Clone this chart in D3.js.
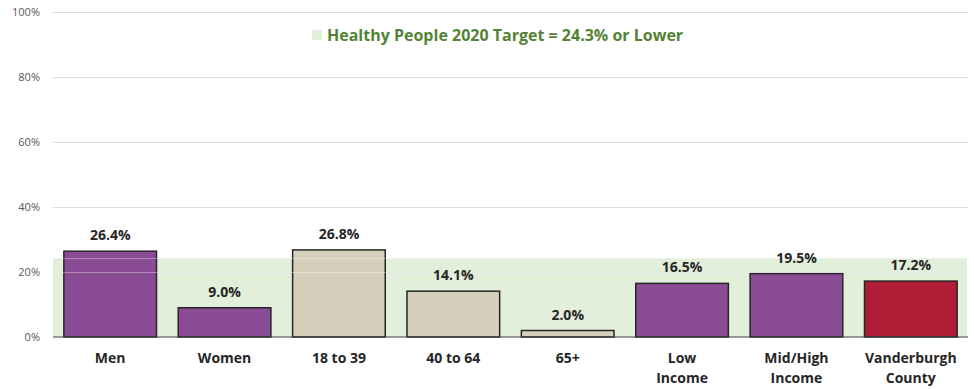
<!DOCTYPE html>
<html>
<head>
<meta charset="utf-8">
<script src="https://cdn.jsdelivr.net/npm/d3@7"></script>
<style>
  html, body { margin: 0; padding: 0; background: #fff; }
  svg { display: block; font-family: "Open Sans", "Segoe UI", sans-serif; }
</style>
</head>
<body>
<svg id="chart" width="974" height="389"></svg>
<script>
// Categories (two-line labels split on "\n")
const categories = ["Men", "Women", "18 to 39", "40 to 64", "65+", "Low\nIncome", "Mid/High\nIncome", "Vanderburgh\nCounty"];
// Percent of adults
const values = [26.4, 9.0, 26.8, 14.1, 2.0, 16.5, 19.5, 17.2];
// Bar group: sex, age, income, county total
const groups = ["sex", "sex", "age", "age", "age", "income", "income", "total"];
const yTicks = [0, 20, 40, 60, 80, 100];
const targetValue = 24.3;
const legendLabel = "Healthy People 2020 Target = 24.3% or Lower";

const groupColor = { sex: "#8b4c96", age: "#d6cfbb", income: "#8b4c96", total: "#b01c35" };

const svg = d3.select("#chart");
const margin = { left: 53, right: 6, top: 12, bottom: 52 };
const W = 974, H = 389;

const x = d3.scaleBand()
  .domain(categories)
  .range([margin.left, W - margin.right])
  .paddingInner(0.19)
  .paddingOuter(0.095);

const y = d3.scaleLinear().domain([0, 100]).range([H - margin.bottom, margin.top]);

// Target band (0 to target)
svg.append("rect")
  .attr("x", margin.left)
  .attr("width", W - margin.right - margin.left - 1)
  .attr("y", y(targetValue))
  .attr("height", y(0) - y(targetValue))
  .attr("fill", "#e2efda");

// Gridlines
const yAxis = d3.axisLeft(y)
  .tickValues(yTicks)
  .tickSize(-(W - margin.right - margin.left))
  .tickFormat(d => d + "%");

const gy = svg.append("g")
  .attr("transform", `translate(${margin.left},0)`)
  .call(yAxis);
gy.select(".domain").remove();
gy.selectAll(".tick line").attr("stroke", "#dedede").attr("stroke-width", 1);
gy.selectAll(".tick text")
  .attr("x", -13)
  .attr("fill", "#595959")
  .style("font-size", "11px")
  .style("font-family", "'Open Sans', sans-serif");
gy.selectAll(".tick").filter(d => d === 0).select("line").remove();

// Bars
svg.append("g").selectAll("rect")
  .data(categories)
  .join("rect")
  .attr("x", d => x(d))
  .attr("width", x.bandwidth())
  .attr("y", (d, i) => y(values[i]))
  .attr("height", (d, i) => y(0) - y(values[i]))
  .attr("fill", (d, i) => groupColor[groups[i]])
  .attr("stroke", "#262626")
  .attr("stroke-width", 1.5);

// Faint band-edge and gridline showing through the bars
const overlay = svg.append("g").attr("stroke", "#ffffff").attr("stroke-opacity", 0.35).attr("stroke-width", 1);
[targetValue, 20].forEach(v => {
  overlay.append("line")
    .attr("x1", margin.left).attr("x2", W - margin.right)
    .attr("y1", Math.round(y(v)) + 0.5).attr("y2", Math.round(y(v)) + 0.5);
});

// Baseline
svg.append("line")
  .attr("x1", margin.left).attr("x2", W - margin.right)
  .attr("y1", y(0)).attr("y2", y(0))
  .attr("stroke", "#404040").attr("stroke-width", 1.2);

// Value labels
svg.append("g").selectAll("text")
  .data(categories)
  .join("text")
  .attr("x", d => x(d) + x.bandwidth() / 2)
  .attr("y", (d, i) => y(values[i]) - 11)
  .attr("text-anchor", "middle")
  .attr("fill", "#262626")
  .style("font-size", "14px")
  .style("font-weight", "bold")
  .text((d, i) => values[i].toFixed(1) + "%");

// Category labels
const cat = svg.append("g").selectAll("text")
  .data(categories)
  .join("text")
  .attr("x", d => x(d) + x.bandwidth() / 2)
  .attr("y", y(0) + 26)
  .attr("text-anchor", "middle")
  .attr("fill", "#262626")
  .style("font-size", "14px")
  .style("font-weight", "bold");
cat.selectAll("tspan")
  .data(d => d.split("\n"))
  .join("tspan")
  .attr("x", function () { return d3.select(this.parentNode).attr("x"); })
  .attr("dy", (d, i) => i === 0 ? 0 : 20)
  .text(d => d);

// Legend
const legend = svg.append("g");
legend.append("rect")
  .attr("x", 312).attr("y", 30).attr("width", 10).attr("height", 10)
  .attr("fill", "#e2efda");
legend.append("text")
  .attr("x", 327).attr("y", 41)
  .attr("fill", "#548235")
  .style("font-size", "16px")
  .style("font-weight", "bold")
  .text(legendLabel);
</script>
</body>
</html>
